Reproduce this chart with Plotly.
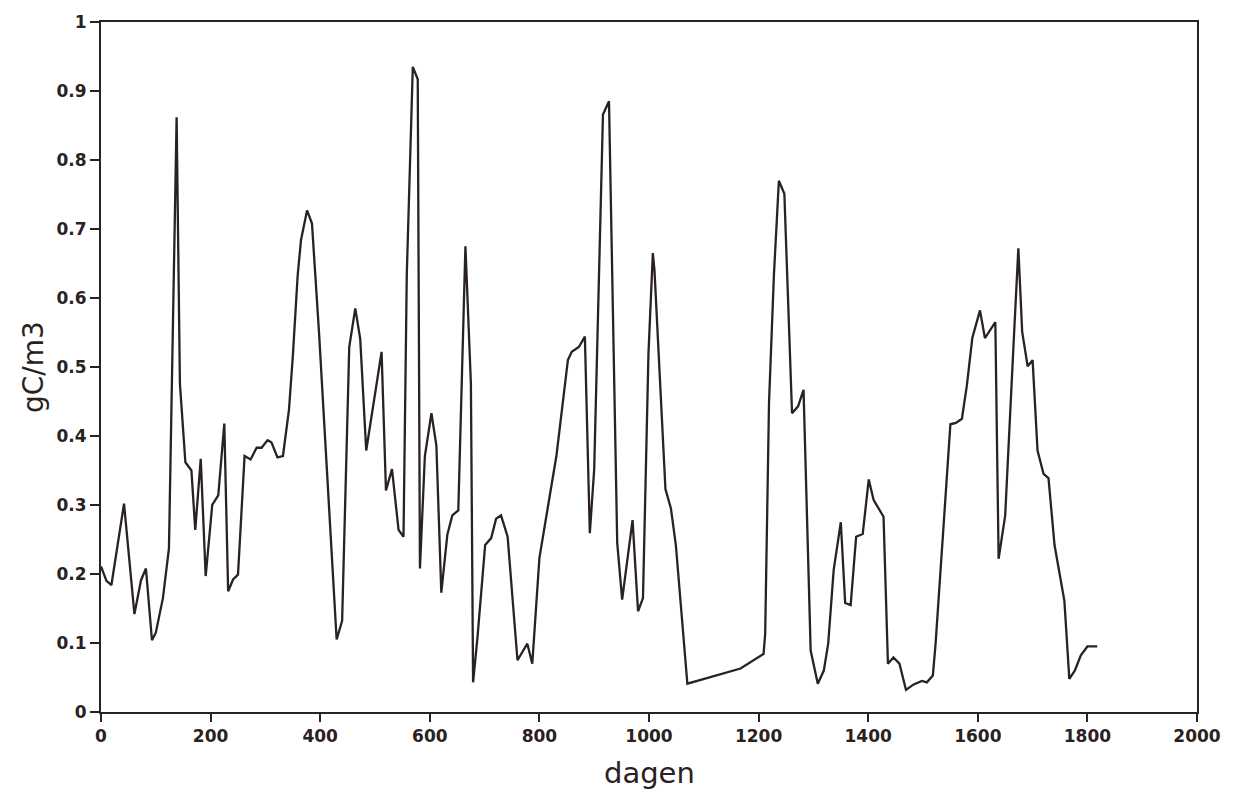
import plotly.graph_objects as go

days = [0, 10, 19, 42, 61, 73, 82, 93, 100, 113, 124, 138, 144, 154, 165, 172, 182, 191,
        203, 214, 225, 232, 241, 250, 262, 273, 284, 293, 304, 311, 322, 332, 343, 350,
        359, 365, 376, 385, 398, 405, 430, 440, 453, 464, 473, 484, 512, 520, 531, 543,
        552, 558, 569, 578, 582, 591, 603, 612, 621, 632, 641, 652, 659, 665, 675, 679,
        687, 701, 712, 721, 730, 742, 760, 778, 787, 800, 815, 831, 852, 859, 872, 883,
        892, 900, 916, 927, 942, 951, 970, 980, 989, 999, 1007, 1010, 1030, 1040, 1049,
        1070, 1167, 1209, 1212, 1219, 1228, 1237, 1247, 1261, 1272, 1282, 1295, 1308,
        1319, 1327, 1337, 1350, 1358, 1368, 1378, 1390, 1401, 1410, 1428, 1436, 1446,
        1457, 1469, 1483, 1498, 1507, 1518, 1523, 1550, 1560, 1571, 1580, 1590, 1604,
        1613, 1632, 1638, 1650, 1665, 1674, 1681, 1691, 1700, 1709, 1720, 1729, 1740,
        1758, 1767, 1777, 1788, 1800, 1818]

gc = [0.211, 0.19, 0.184, 0.302, 0.142, 0.191, 0.208, 0.104, 0.115, 0.165, 0.237, 0.862,
      0.476, 0.362, 0.350, 0.264, 0.367, 0.197, 0.300, 0.314, 0.418, 0.175, 0.192, 0.199,
      0.371, 0.366, 0.383, 0.383, 0.394, 0.391, 0.369, 0.371, 0.438, 0.515, 0.634, 0.684,
      0.727, 0.708, 0.548, 0.452, 0.105, 0.132, 0.529, 0.585, 0.541, 0.379, 0.522, 0.321,
      0.352, 0.264, 0.254, 0.634, 0.935, 0.917, 0.208, 0.371, 0.433, 0.386, 0.173, 0.257,
      0.285, 0.292, 0.515, 0.675, 0.476, 0.043, 0.108, 0.242, 0.252, 0.280, 0.285, 0.254,
      0.075, 0.099, 0.070, 0.223, 0.295, 0.371, 0.510, 0.522, 0.529, 0.544, 0.259, 0.352,
      0.866, 0.885, 0.245, 0.163, 0.278, 0.146, 0.165, 0.519, 0.665, 0.64, 0.323, 0.295,
      0.242, 0.041, 0.063, 0.084, 0.113, 0.448, 0.634, 0.770, 0.751, 0.433, 0.443, 0.467,
      0.089, 0.041, 0.060, 0.099, 0.206, 0.275, 0.158, 0.155, 0.254, 0.258, 0.337, 0.307,
      0.283, 0.070, 0.079, 0.070, 0.032, 0.040, 0.045, 0.043, 0.053, 0.099, 0.417, 0.419,
      0.425, 0.473, 0.542, 0.582, 0.542, 0.565, 0.222, 0.285, 0.529, 0.672, 0.551, 0.501,
      0.510, 0.379, 0.345, 0.339, 0.242, 0.161, 0.048, 0.060, 0.082, 0.095, 0.095]

x_ticks = [0, 200, 400, 600, 800, 1000, 1200, 1400, 1600, 1800, 2000]
y_ticks = [0, 0.1, 0.2, 0.3, 0.4, 0.5, 0.6, 0.7, 0.8, 0.9, 1]
y_tick_text = ["0", "0.1", "0.2", "0.3", "0.4", "0.5", "0.6", "0.7", "0.8", "0.9", "1"]

ink = "#2a2222"
tick_font = dict(family="DejaVu Sans", size=17, color=ink, weight="bold")

fig = go.Figure()
fig.add_trace(go.Scatter(x=days, y=gc, mode="lines",
                         line=dict(color=ink, width=2.3), showlegend=False))

fig.update_layout(
    width=1233, height=796,
    margin=dict(l=101, r=34, t=15, b=84),
    paper_bgcolor="white", plot_bgcolor="white",
    xaxis=dict(range=[0, 2000], tickvals=x_ticks, ticks="outside", ticklen=8,
               tickwidth=2, tickcolor=ink, showline=True, linecolor=ink, linewidth=2,
               mirror=True, showgrid=False, zeroline=False, tickfont=tick_font),
    yaxis=dict(range=[0, 1], tickvals=y_ticks, ticktext=y_tick_text, ticks="outside",
               ticklen=9, tickwidth=2, tickcolor=ink, showline=True, linecolor=ink,
               linewidth=2, mirror=True, showgrid=False, zeroline=False,
               tickfont=tick_font),
    annotations=[
        dict(text="dagen", xref="paper", yref="paper", x=0.5, y=0, yshift=-61,
             xanchor="center", yanchor="middle", showarrow=False,
             font=dict(family="DejaVu Sans", size=29, color=ink)),
        dict(text="gC/m3", xref="paper", yref="paper", x=0, y=0.5, xshift=-68,
             xanchor="center", yanchor="middle", textangle=-90, showarrow=False,
             font=dict(family="DejaVu Sans", size=28, color=ink)),
    ],
)

fig.write_html("out.html")
